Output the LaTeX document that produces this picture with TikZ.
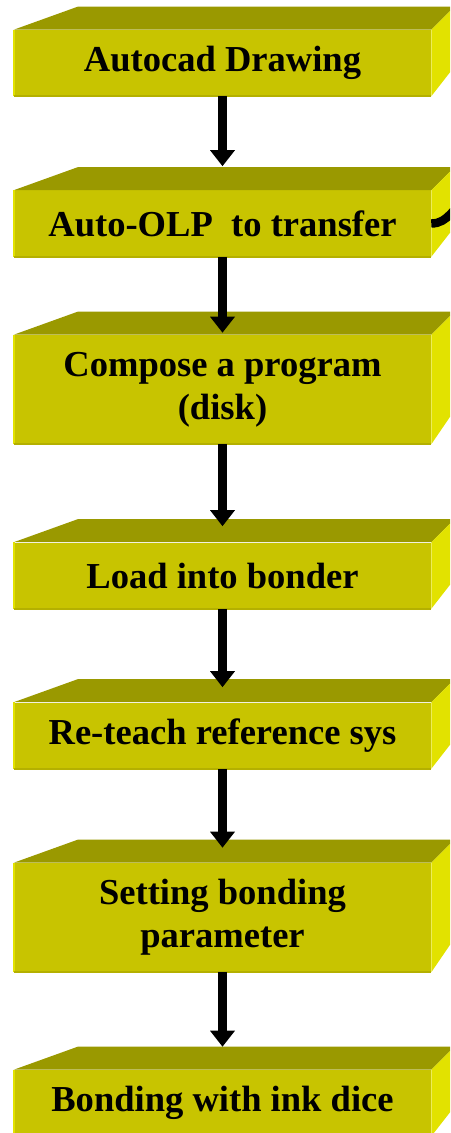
\documentclass[tikz,border=0pt]{standalone}
\usepackage{fontspec}
\setmainfont{Liberation Serif}
\usetikzlibrary{arrows.meta, calc}
\definecolor{boxfront}{HTML}{C8C400}
\definecolor{boxtop}{HTML}{9A9900}
\definecolor{boxside}{HTML}{E2E200}
\definecolor{boxedge}{HTML}{B4B000}

\begin{document}
\begin{tikzpicture}[every node/.style={font=\fontsize{26}{30.6}\selectfont\bfseries},
  stepbox/.style={fill=boxfront, minimum width=10.425cm, minimum height=1.65cm,
    inner sep=0pt, align=center},
  tallbox/.style={stepbox, minimum height=2.725cm},
  flow/.style={line width=6.4pt, -{Triangle[width=17pt, length=11.4pt]}}]

\useasboundingbox (0,0) rectangle (11.25,-28.325);
\clip (0,0) rectangle (11.25,-28.325);

% Front faces, top to bottom
\node[stepbox] (cad)     at (5.5625,-1.575)  {Autocad Drawing};
\node[stepbox] (olp)     at (5.5625,-5.5875) {Auto-OLP\ \ to transfer};
\node[tallbox] (compose) at (5.5625,-9.7375) {Compose a program\\(disk)};
\node[stepbox] (load)    at (5.5625,-14.3875) {Load into bonder};
\node[stepbox] (reteach) at (5.5625,-18.3875) {Re-teach reference sys};
\node[tallbox] (setting) at (5.5625,-22.9375) {Setting bonding\\parameter};
\node[stepbox] (bonding) at (5.5625,-27.575) {Bonding with ink dice};

% Top and side faces, pulled toward a vanishing point up right
\foreach \b in {cad, olp, compose, load, reteach, setting, bonding} {
  \coordinate (vp) at ($(\b.north)+(11.1,5.875)$);
  \fill[boxtop] (\b.north west) -- ($(\b.north west)!0.098!(vp)$)
    -- ($(\b.north east)!0.098!(vp)$) -- (\b.north east) -- cycle;
  \fill[boxside] (\b.north east) -- ($(\b.north east)!0.098!(vp)$)
    -- ($(\b.south east)!0.098!(vp)$) -- (\b.south east) -- cycle;
  \draw[boxside, line width=1.4pt] (\b.south west) -- (\b.north west);
  \draw[boxedge, line width=1.4pt] (\b.south west) -- (\b.south east);
}

% Line leaving the transfer step
\coordinate (olp-out) at (11.7,-4.95);
\draw[line width=6pt] (olp.east) to[out=0, in=210] (olp-out);

% Flow arrows
\draw[flow, shorten >=0.6cm]   (cad) -- (olp);
\draw[flow, shorten >=0.05cm]  (olp) -- (compose);
\draw[flow, shorten >=0.4cm]   (compose) -- (load);
\draw[flow, shorten >=0.375cm] (load) -- (reteach);
\draw[flow, shorten >=0.375cm] (reteach) -- (setting);
\draw[flow, shorten >=0.575cm] (setting) -- (bonding);

\end{tikzpicture}
\end{document}
